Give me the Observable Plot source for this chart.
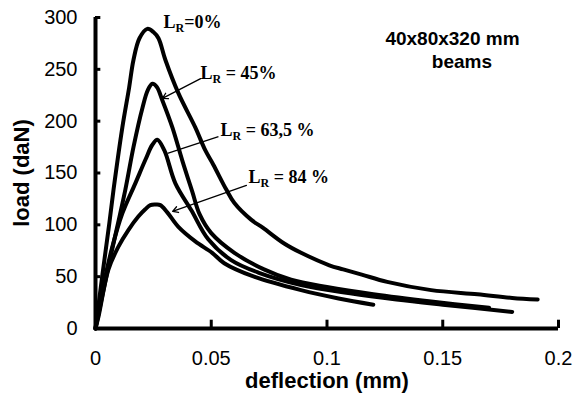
<!DOCTYPE html>
<html><head><meta charset="utf-8">
<script src="https://cdn.jsdelivr.net/npm/d3@7"></script>
<script src="https://cdn.jsdelivr.net/npm/@observablehq/plot@0.6"></script>
<style>body{margin:0;background:#fff}#chart svg{display:block}</style>
</head><body><div id="chart"></div>
<script>
// series: deflection (mm) and load (daN)
const defl0 = [0, 0.003, 0.006, 0.0078, 0.0116, 0.0145, 0.0164, 0.019, 0.0224, 0.025, 0.0272, 0.0302, 0.0358, 0.0431, 0.0474, 0.0509, 0.0565, 0.060, 0.0672, 0.0724, 0.0815, 0.0888, 0.101, 0.107, 0.115, 0.126, 0.145, 0.165, 0.18, 0.191];
const load0 = [0, 52, 102, 134, 194, 232, 259, 280, 289, 286, 280, 259, 227, 194, 172, 158, 134, 121, 105, 97, 82, 73, 61, 57, 52, 45, 37, 33, 29.5, 28];
const defl45 = [0, 0.006, 0.0129, 0.0164, 0.0203, 0.0226, 0.0246, 0.0265, 0.0289, 0.0332, 0.0375, 0.0418, 0.045, 0.050, 0.060, 0.0728, 0.0845, 0.1, 0.12, 0.145, 0.17];
const load45 = [0, 64, 134, 175, 213, 230, 236, 233, 220, 194, 162, 132, 110, 92, 73, 57, 47, 40, 33, 26, 20];
const defl63 = [0, 0.003, 0.0073, 0.0116, 0.0172, 0.0216, 0.0245, 0.0267, 0.0297, 0.0345, 0.0414, 0.0487, 0.0586, 0.0703, 0.0888, 0.11, 0.13, 0.15, 0.18];
const load63 = [0, 37, 79, 111, 140, 163, 177, 182, 172, 140, 114, 86, 66, 54, 42, 34, 28, 23, 16];
const defl84 = [0, 0.0013, 0.0056, 0.0099, 0.0142, 0.0185, 0.0215, 0.0237, 0.026, 0.028, 0.031, 0.0358, 0.0431, 0.0504, 0.0556, 0.0685, 0.0888, 0.105, 0.12];
const load84 = [0, 11.5, 57, 79, 95, 108, 115, 119, 119.5, 119, 112, 98, 84, 73, 63, 50, 37, 29, 23];

const seriesNames = ["LR=0%", "LR=45%", "LR=63,5%", "LR=84%"];
const seriesDefl = [defl0, defl45, defl63, defl84];
const seriesLoad = [load0, load45, load63, load84];

// annotation labels
const labelTexts = ["LR=0%", "LR = 45%", "LR = 63,5 %", "LR = 84 %"];
const labelDefl = [0.0294, 0.0454, 0.054, 0.0661];
const labelLoad = [290, 241, 186, 140];
// arrows (label -> curve)
const arrowFromDefl = [0.0454, 0.0652];
const arrowFromLoad = [241, 138];
const arrowToDefl = [0.0289, 0.0333];
const arrowToLoad = [222, 113];
const leaderFromDefl = [0.0531];
const leaderFromLoad = [185];
const leaderToDefl = [0.0311];
const leaderToLoad = [169];

const noteLines = ["40x80x320 mm", "beams"];
const noteDefl = [0.1542, 0.1583];
const noteLoad = [273, 251];

const xTicks = [0, 0.05, 0.1, 0.15, 0.2];
const xTickLabels = ["0", "0.05", "0.1", "0.15", "0.2"];
const yTicks = [0, 50, 100, 150, 200, 250, 300];
const yTickLabels = ["0", "50", "100", "150", "200", "250", "300"];
const xTitle = "deflection (mm)";
const yTitle = "load (daN)";

const rows = seriesNames.flatMap((s, k) => seriesDefl[k].map((d, i) => ({series: s, defl: d, load: seriesLoad[k][i]})));
const labels = labelTexts.map((t, i) => ({t, x: labelDefl[i], y: labelLoad[i]}));
const arrows = arrowFromDefl.map((d, i) => ({x1: d, y1: arrowFromLoad[i], x2: arrowToDefl[i], y2: arrowToLoad[i]}));
const leaders = leaderFromDefl.map((d, i) => ({x1: d, y1: leaderFromLoad[i], x2: leaderToDefl[i], y2: leaderToLoad[i]}));
const notes = noteLines.map((t, i) => ({t, x: noteDefl[i], y: noteLoad[i]}));

const chart = Plot.plot({
  width: 582, height: 393,
  marginLeft: 95, marginRight: 24, marginTop: 17, marginBottom: 65,
  x: {domain: [0, 0.2]},
  y: {domain: [0, 300]},
  style: {fontFamily: "'Liberation Sans', Arial, sans-serif", background: "white", color: "black"},
  marks: [
    Plot.axisY(yTicks, {tickSize: 0, tickPadding: 18, fontSize: 20, label: null, tickFormat: d => yTickLabels[yTicks.indexOf(d)]}),
    Plot.axisX(xTicks, {tickSize: 0, tickPadding: 22, fontSize: 20, label: null, tickFormat: d => xTickLabels[xTicks.indexOf(d)]}),
    Plot.ruleY(yTicks, {x1: 0, x2: 0.0023, strokeWidth: 3}),
    Plot.ruleX(xTicks, {y1: 0, y2: 8, strokeWidth: 3}),
    Plot.ruleX([0], {strokeWidth: 4}),
    Plot.ruleY([0], {strokeWidth: 4}),
    Plot.line(rows, {x: "defl", y: "load", z: "series", curve: "catmull-rom", stroke: "black", strokeWidth: 4, strokeLinejoin: "round"}),
    Plot.arrow(arrows, {x1: "x1", y1: "y1", x2: "x2", y2: "y2", stroke: "black", strokeWidth: 1.3, headLength: 7}),
    Plot.link(leaders, {x1: "x1", y1: "y1", x2: "x2", y2: "y2", stroke: "black", strokeWidth: 1.3}),
    Plot.text(labels, {x: "x", y: "y", text: "t", textAnchor: "start", lineAnchor: "bottom", fontSize: 18, fontWeight: "bold", fontFamily: "'Liberation Serif', 'Times New Roman', serif"}),
    Plot.text(notes, {x: "x", y: "y", text: "t", textAnchor: "middle", lineAnchor: "bottom", fontSize: 19, fontWeight: "bold"}),
    Plot.text([yTitle], {text: d => d, frameAnchor: "left", textAnchor: "middle", lineAnchor: "middle", dx: -74, rotate: -90, fontSize: 22, fontWeight: "bold"}),
    Plot.text([xTitle], {text: d => d, frameAnchor: "bottom", textAnchor: "middle", lineAnchor: "middle", dy: 52, fontSize: 22, fontWeight: "bold"})
  ]
});

// subscript R in the L_R labels
d3.select(chart).selectAll("text").each(function() {
  const s = this.textContent;
  if (this.childElementCount === 0 && s.startsWith("LR")) {
    const el = d3.select(this);
    el.text("L");
    el.append("tspan").attr("font-size", 12).attr("dy", 4).text("R");
    el.append("tspan").attr("dy", -4).text(s.slice(2));
  }
});
document.getElementById("chart").append(chart);
</script>
</body></html>
